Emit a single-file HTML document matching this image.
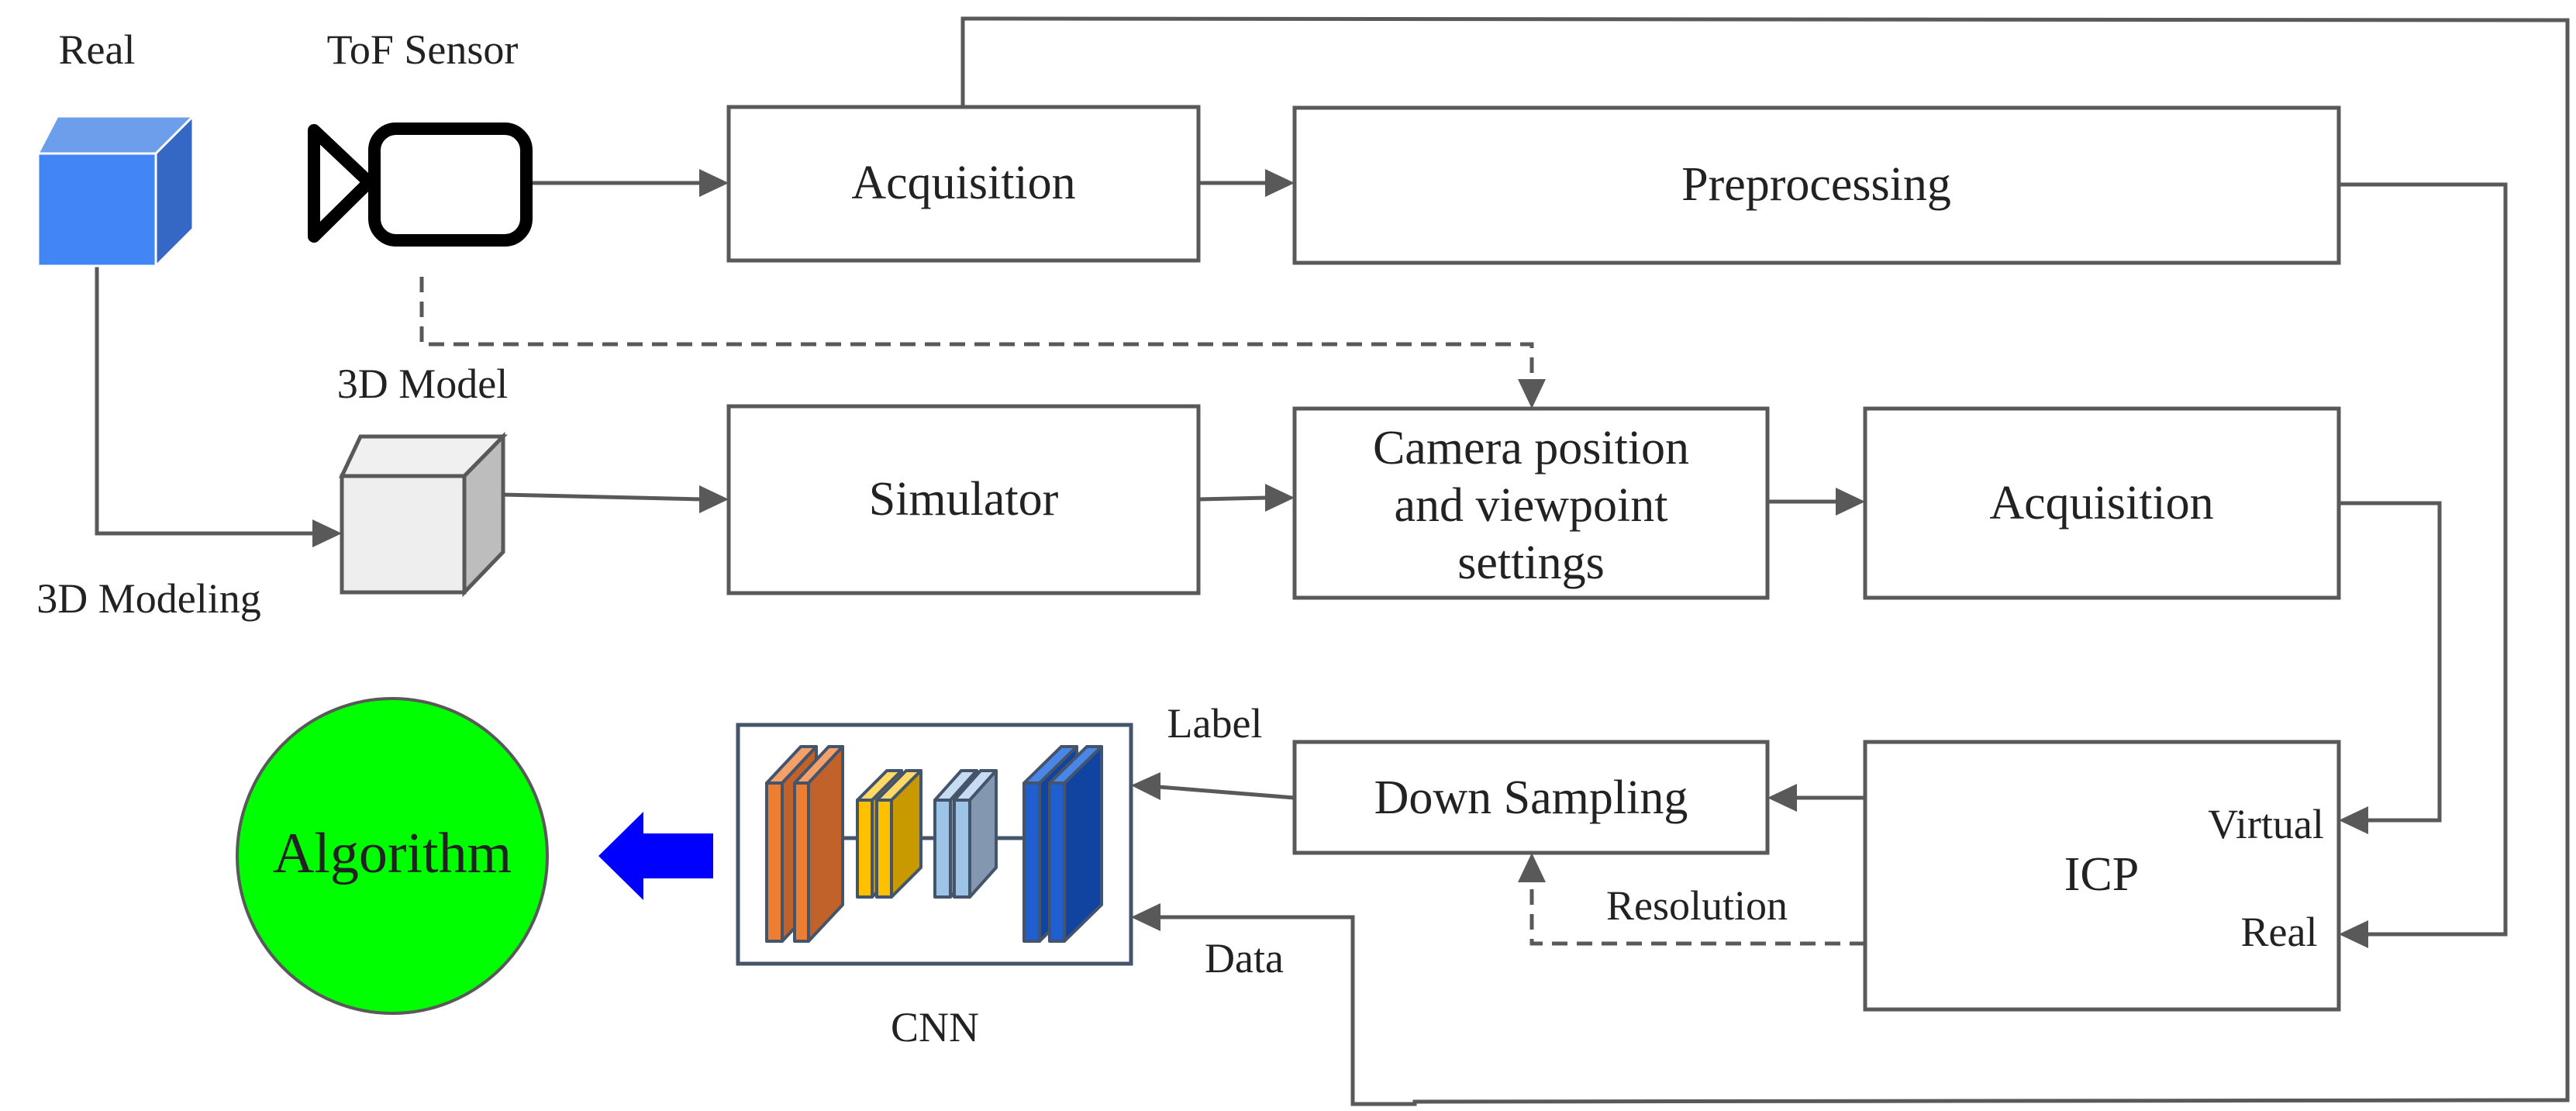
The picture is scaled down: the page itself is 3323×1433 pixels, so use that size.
<!DOCTYPE html>
<html><head><meta charset="utf-8"><style>
html,body{margin:0;padding:0;background:#fff;}
svg{display:block;}
text{font-family:"Liberation Serif",serif;fill:#222;}
</style></head><body>
<svg width="3323" height="1433" viewBox="0 0 3323 1433" xmlns="http://www.w3.org/2000/svg">
<g stroke="#595959" stroke-width="5" fill="none">
<rect x="940" y="138" width="606" height="198" fill="#fff"/>
<rect x="1670" y="139" width="1347" height="200" fill="#fff"/>
<rect x="940" y="524" width="606" height="241" fill="#fff"/>
<rect x="1670" y="527" width="610" height="244" fill="#fff"/>
<rect x="2406" y="527" width="611" height="244" fill="#fff"/>
<rect x="1670" y="957" width="610" height="143" fill="#fff"/>
<rect x="2406" y="957" width="611" height="345" fill="#fff"/>
<polyline points="685,236 905,236"/>
<polyline points="1546,236 1635,236"/>
<polyline points="1242,138 1242,24 3312,26 3312,1419 1825,1421 1825,1424 1745,1424 1745,1183 1495,1183"/>
<polyline points="3017,238 3232,238 3232,1205 3052,1205"/>
<polyline points="3017,649 3147,649 3147,1058 3052,1058"/>
<polyline points="649,638 905,644"/>
<polyline points="1546,644 1635,642"/>
<polyline points="2280,647 2371,647"/>
<polyline points="125,343 125,688 406,688"/>
<polyline points="2406,1029 2315,1029"/>
<polyline points="1670,1029 1495,1015"/>
<polyline points="544,357 544,444 1976,444 1976,492" stroke-dasharray="20,12"/>
<polyline points="2406,1217 1976,1217 1976,1135" stroke-dasharray="20,12"/>
</g>
<g fill="#595959">
<polygon points="940,236 902,218 902,254"/>
<polygon points="1670,236 1632,218 1632,254"/>
<polygon points="940,644 902,626 902,662"/>
<polygon points="1670,642 1632,624 1632,660"/>
<polygon points="2406,647 2368,629 2368,665"/>
<polygon points="441,688 403,670 403,706"/>
<polygon points="1976,527 1958,489 1994,489"/>
<polygon points="1976,1100 1958,1138 1994,1138"/>
<polygon points="2280,1029 2318,1011 2318,1047"/>
<polygon points="1459,1013 1497,996 1497,1032"/>
<polygon points="1459,1183 1497,1165 1497,1201"/>
<polygon points="3017,1058 3055,1040 3055,1076"/>
<polygon points="3017,1205 3055,1187 3055,1223"/>
</g>
<polygon points="49,198 74,150 249,150 201,198" fill="#6d9eeb" stroke="#fff" stroke-width="3"/>
<polygon points="201,198 249,150 249,295 201,343" fill="#3468c4" stroke="#fff" stroke-width="3"/>
<rect x="49" y="198" width="152" height="145" fill="#4285f4" stroke="#fff" stroke-width="3"/>
<g stroke="#595959" stroke-width="5">
<polygon points="441,614 465,563 649,563 599,614" fill="#f0f0f0"/>
<polygon points="599,614 649,563 649,712 599,764" fill="#bdbdbd"/>
<rect x="441" y="614" width="158" height="150" fill="#eeeeee"/>
</g>
<g stroke="#000" stroke-width="16" fill="#fff" stroke-linejoin="round">
<polygon points="405,168 405,305 476,235"/>
<rect x="483" y="166" width="196" height="144" rx="28"/>
</g>
<ellipse cx="506" cy="1104" rx="200" ry="203" fill="#00ff00" stroke="#595959" stroke-width="4"/>
<polygon points="772,1104 830,1047 830,1075 920,1075 920,1133 830,1133 830,1161" fill="#0000ff"/>
<rect x="952" y="935" width="507" height="308" fill="#fff" stroke="#44546a" stroke-width="5"/>
<g stroke="#44546a" stroke-width="5">
<line x1="1060" y1="1081" x2="1330" y2="1081"/>
</g>
<g stroke="#44546a" stroke-width="4" stroke-linejoin="round">
<polygon points="989,1010 1033,963 1053,963 1009,1010" fill="#f4a06a"/><polygon points="1009,1010 1053,963 1053,1167 1009,1214" fill="#c0622a"/><rect x="989" y="1010" width="20" height="204" fill="#ed7d31"/>
<polygon points="1025,1010 1069,963 1087,963 1043,1010" fill="#f4a06a"/><polygon points="1043,1010 1087,963 1087,1167 1043,1214" fill="#c0622a"/><rect x="1025" y="1010" width="18" height="204" fill="#ed7d31"/>
<polygon points="1106,1032 1144,994 1163,994 1125,1032" fill="#ffd966"/><polygon points="1125,1032 1163,994 1163,1119 1125,1157" fill="#c99a00"/><rect x="1106" y="1032" width="19" height="125" fill="#ffc000"/>
<polygon points="1131,1032 1169,994 1188,994 1150,1032" fill="#ffd966"/><polygon points="1150,1032 1188,994 1188,1119 1150,1157" fill="#c99a00"/><rect x="1131" y="1032" width="19" height="125" fill="#ffc000"/>
<polygon points="1206,1032 1240,994 1260,994 1226,1032" fill="#c5dcf3"/><polygon points="1226,1032 1260,994 1260,1119 1226,1157" fill="#8497b0"/><rect x="1206" y="1032" width="20" height="125" fill="#9dc3e6"/>
<polygon points="1231,1032 1265,994 1285,994 1251,1032" fill="#c5dcf3"/><polygon points="1251,1032 1285,994 1285,1119 1251,1157" fill="#8497b0"/><rect x="1231" y="1032" width="20" height="125" fill="#9dc3e6"/>
<polygon points="1321,1010 1369,963 1389,963 1341,1010" fill="#4a86e8"/><polygon points="1341,1010 1389,963 1389,1167 1341,1214" fill="#1144a0"/><rect x="1321" y="1010" width="20" height="204" fill="#1f5fd0"/>
<polygon points="1354,1010 1402,963 1421,963 1373,1010" fill="#4a86e8"/><polygon points="1373,1010 1421,963 1421,1167 1373,1214" fill="#1144a0"/><rect x="1354" y="1010" width="19" height="204" fill="#1f5fd0"/>
</g>
<g font-family="Liberation Serif, serif" font-size="54" text-anchor="middle" dominant-baseline="central">
<text x="125" y="64">Real</text>
<text x="545" y="64">ToF Sensor</text>
<text x="545" y="495">3D Model</text>
<text x="192" y="772">3D Modeling</text>
<text x="1567" y="933">Label</text>
<text x="1605" y="1236">Data</text>
<text x="1206" y="1325">CNN</text>
<text x="2189" y="1168">Resolution</text>
<text x="2923" y="1063">Virtual</text>
<text x="2940" y="1202">Real</text>
</g>
<g font-family="Liberation Serif, serif" font-size="62" text-anchor="middle" dominant-baseline="central">
<text x="1243" y="236">Acquisition</text>
<text x="2343" y="238">Preprocessing</text>
<text x="1243" y="644">Simulator</text>
<text x="1975" y="578">Camera position</text>
<text x="1975" y="652">and viewpoint</text>
<text x="1975" y="726">settings</text>
<text x="2711" y="649">Acquisition</text>
<text x="1975" y="1029">Down Sampling</text>
<text x="2711" y="1128">ICP</text>
<text x="506" y="1101" font-size="74">Algorithm</text>
</g>
</svg>
</body></html>
